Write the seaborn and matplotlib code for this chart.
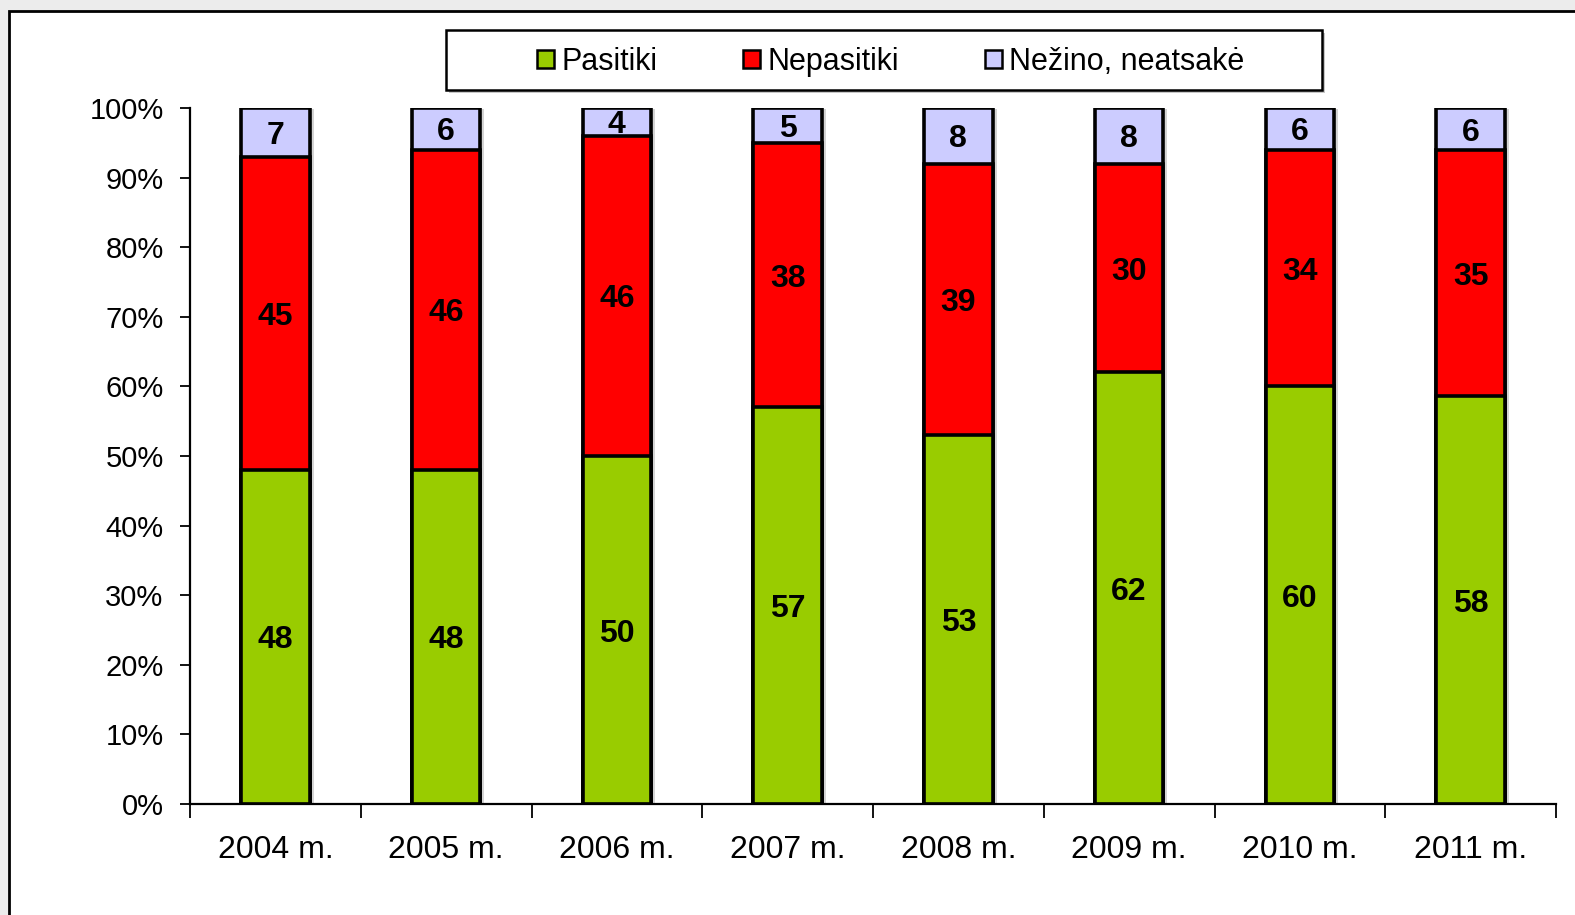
import numpy as np
import pandas as pd
import seaborn as sns
import matplotlib.pyplot as plt
from matplotlib.patches import Rectangle, Patch
from matplotlib.ticker import PercentFormatter, FixedLocator
from matplotlib.transforms import ScaledTranslation

sns.set_theme(style="white")
plt.rcParams['font.family'] = ['Liberation Sans', 'DejaVu Sans']
plt.rcParams['text.color'] = 'black'
plt.rcParams['xtick.color'] = 'black'
plt.rcParams['ytick.color'] = 'black'

years = ['2004 m.', '2005 m.', '2006 m.', '2007 m.', '2008 m.', '2009 m.', '2010 m.', '2011 m.']
pasitiki = [48, 48, 50, 57, 53, 62, 60, 58]
nepasitiki = [45, 46, 46, 38, 39, 30, 34, 35]
nezino = [7, 6, 4, 5, 8, 8, 6, 6]

labels = ['Pasitiki', 'Nepasitiki', 'Nežino, neatsakė']
colors = ['#99CC00', '#FF0000', '#CCCCFF']

df = pd.DataFrame({'year': years, 'p': pasitiki, 'n': nepasitiki, 'x': nezino})
tot = df[['p', 'n', 'x']].sum(axis=1)
# 100% stacked, normalised per year
df['p_pct'] = df['p'] / tot * 100
df['n_pct'] = df['n'] / tot * 100
df['x_pct'] = df['x'] / tot * 100
df['c1'] = df['p_pct']
df['c2'] = df['p_pct'] + df['n_pct']
df['c3'] = df['c2'] + df['x_pct']

W, H = 1575, 915
fig = plt.figure(figsize=(W / 100, H / 100), dpi=100, facecolor='#ececec')

# white chart area with black frame
fig.patches.append(Rectangle((9 / W, -0.05), 1.1, 1 - 11 / H + 0.05, transform=fig.transFigure,
                             facecolor='white', edgecolor='black', linewidth=2, zorder=-2))

ax = fig.add_axes([190 / W, 1 - 804 / H, (1556 - 190) / W, (804 - 108) / H])
ax.set_facecolor('none')

# soft shadow to the right of each bar
sns.barplot(data=df, x='year', y='c3', color='#d4d4d4', width=0.4, saturation=1, ax=ax, linewidth=0)
shift = ax.transData + ScaledTranslation(4 / 100, -1 / 100, fig.dpi_scale_trans)
for p in ax.patches:
    p.set_transform(shift)

edge = dict(edgecolor='black', linewidth=2.6)
# draw cumulative totals tallest first so they stack visually
sns.barplot(data=df, x='year', y='c3', color=colors[2], width=0.4, saturation=1, ax=ax, **edge)
sns.barplot(data=df, x='year', y='c2', color=colors[1], width=0.4, saturation=1, ax=ax, **edge)
sns.barplot(data=df, x='year', y='c1', color=colors[0], width=0.4, saturation=1, ax=ax, **edge)

# value labels in the middle of each segment
lab = dict(ha='center', va='center_baseline', fontsize=23, fontweight='bold', color='black')
for i, row in df.iterrows():
    ax.text(i, row['c1'] / 2, str(row['p']), **lab)
    ax.text(i, (row['c1'] + row['c2']) / 2, str(row['n']), **lab)
    ax.text(i, (row['c2'] + row['c3']) / 2, str(row['x']), **lab)

ax.set_ylim(0, 100)
ax.set_xlim(-0.5, len(years) - 0.5)
ax.yaxis.set_major_locator(FixedLocator(np.arange(0, 101, 10)))
ax.yaxis.set_major_formatter(PercentFormatter(decimals=0))
ax.set_xlabel('')
ax.set_ylabel('')

for s in ['top', 'right']:
    ax.spines[s].set_visible(False)
for s in ['left', 'bottom']:
    ax.spines[s].set_color('black')
    ax.spines[s].set_linewidth(1.6)

ax.tick_params(axis='y', which='major', direction='out', length=7, width=1.3, color='black',
               labelsize=21, pad=12, left=True)
ax.tick_params(axis='x', which='major', length=0, labelsize=23, pad=22)
ax.xaxis.set_minor_locator(FixedLocator(np.arange(-0.5, len(years), 1.0)))
ax.tick_params(axis='x', which='minor', direction='out', length=10, width=1.3, color='black', bottom=True)

# legend with its own box
fig.patches.append(Rectangle((449 / W, 1 - 93 / H), (1322 - 446) / W, 60 / H, transform=fig.transFigure,
                             facecolor='#c8c8c8', edgecolor='none', zorder=1))
fig.patches.append(Rectangle((446 / W, 1 - 90 / H), (1322 - 446) / W, 60 / H, transform=fig.transFigure,
                             facecolor='white', edgecolor='black', linewidth=1.8, zorder=2))
handles = [Patch(facecolor=c, edgecolor='black', linewidth=1.8) for c in colors]
leg = fig.legend(handles, labels, loc='center', bbox_to_anchor=(891 / W, 1 - 62 / H), ncol=3,
                 frameon=False, fontsize=22, handlelength=0.55, handleheight=0.55,
                 handletextpad=0.25, columnspacing=2.8)
leg.set_zorder(3)

fig.savefig('out.png', dpi=100, facecolor=fig.get_facecolor())
